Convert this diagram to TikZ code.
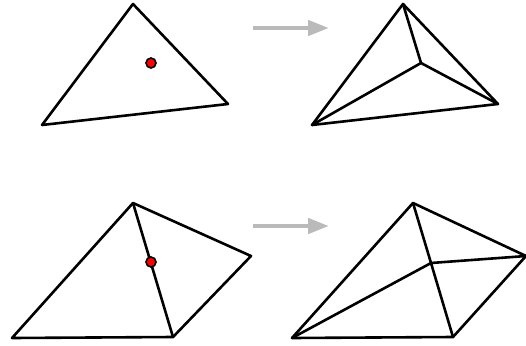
\documentclass[tikz,border=0pt]{standalone}
\usetikzlibrary{arrows.meta}
\begin{document}
\begin{tikzpicture}[x=1pt,y=-1pt,
  edge/.style={line width=2.6pt,line join=round,line cap=round,black},
  pt/.style={circle,fill=red,draw=black,line width=1.6pt,minimum size=10pt,inner sep=0pt},
  garrow/.style={line width=4.5pt,color=black!27,-{Triangle[length=21pt,width=15pt]}}]
\useasboundingbox (0,0) rectangle (526,345);
% top-left
\coordinate (A1) at (133,4);
\coordinate (A2) at (228,104);
\coordinate (A3) at (42,125);
\draw[edge] (A1) -- (A2) -- (A3) -- cycle;
\node[pt] (P1) at (151,63) {};
% top arrow
\coordinate (s1) at (253,28);
\coordinate (e1) at (329,28);
\draw[garrow] (s1) -- (e1);
% top-right
\coordinate (B1) at (403,4);
\coordinate (B2) at (498,104);
\coordinate (B3) at (312,125);
\coordinate (Q1) at (421,63);
\draw[edge] (B1) -- (B2) -- (B3) -- cycle;
\draw[edge] (Q1) -- (B1) (Q1) -- (B2) (Q1) -- (B3);
% bottom-left
\coordinate (C1) at (133,203);
\coordinate (C2) at (251,256);
\coordinate (C3) at (173,337);
\coordinate (C4) at (12,338);
\draw[edge] (C1) -- (C2) -- (C3) -- (C4) -- cycle;
\draw[edge] (C1) -- (C3);
\node[pt] (P2) at (151,262) {};
% bottom arrow
\coordinate (s2) at (253,226);
\coordinate (e2) at (329,226);
\draw[garrow] (s2) -- (e2);
% bottom-right
\coordinate (D1) at (413,203);
\coordinate (D2) at (526,256);
\coordinate (D3) at (453,337);
\coordinate (D4) at (292,338);
\coordinate (Q2) at (431,263);
\draw[edge] (D1) -- (D2) -- (D3) -- (D4) -- cycle;
\draw[edge] (Q2) -- (D1) (Q2) -- (D2) (Q2) -- (D3) (Q2) -- (D4);
\end{tikzpicture}
\end{document}
